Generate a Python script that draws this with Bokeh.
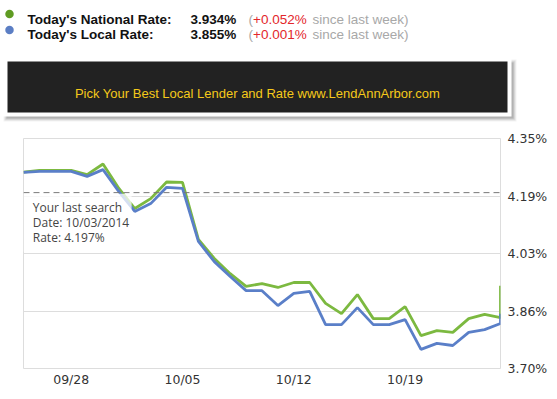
import pandas as pd
from bokeh.plotting import figure
from bokeh.layouts import column
from bokeh.models import Range1d, FixedTicker, Span, Label, BoxAnnotation
from bokeh.embed import file_html
from bokeh.resources import INLINE
from bokeh.core.properties import value

# ---------------- data ----------------
dates = ["2014-09-25", "2014-09-26", "2014-09-27", "2014-09-28", "2014-09-29",
         "2014-09-30", "2014-10-01", "2014-10-02", "2014-10-03", "2014-10-04",
         "2014-10-05", "2014-10-06", "2014-10-07", "2014-10-08", "2014-10-09",
         "2014-10-10", "2014-10-11", "2014-10-12", "2014-10-13", "2014-10-14",
         "2014-10-15", "2014-10-16", "2014-10-17", "2014-10-18", "2014-10-19",
         "2014-10-20", "2014-10-21", "2014-10-22", "2014-10-23", "2014-10-24",
         "2014-10-25", "2014-10-25"]
national = [4.255, 4.260, 4.260, 4.260, 4.248, 4.278, 4.209, 4.152, 4.180, 4.227,
            4.226, 4.065, 4.011, 3.968, 3.932, 3.940, 3.929, 3.943, 3.943, 3.884,
            3.855, 3.909, 3.841, 3.841, 3.875, 3.793, 3.807, 3.802, 3.841, 3.853,
            3.844, 3.934]
local = [4.254, 4.257, 4.257, 4.257, 4.243, 4.262, 4.200, 4.144, 4.166, 4.212,
         4.209, 4.059, 4.002, 3.960, 3.920, 3.920, 3.878, 3.912, 3.918, 3.824,
         3.824, 3.872, 3.824, 3.824, 3.838, 3.754, 3.771, 3.765, 3.802, 3.810,
         3.827, 3.855]

series_names = ["Today's National Rate:", "Today's Local Rate:"]
today_rates = ["3.934%", "3.855%"]
week_changes = ["+0.052%", "+0.001%"]

y_ticks = [3.70, 3.8625, 4.025, 4.1875, 4.35]
y_tick_labels = ["3.70%", "3.86%", "4.03%", "4.19%", "4.35%"]
x_tick_dates = ["2014-09-28", "2014-10-05", "2014-10-12", "2014-10-19"]
x_tick_labels = ["09/28", "10/05", "10/12", "10/19"]

last_search_date = "10/03/2014"
last_search_rate = 4.197
banner_text = "Pick Your Best Local Lender and Rate www.LendAnnArbor.com"

GREEN = "#7cb940"
BLUE = "#5a7fc8"
DOT_COLORS = ["#5f9b22", "#5b7ec4"]

W = 557
HEAD_H = 130
CHART_H = 269

# ---------------- header / banner figure (pixel space) ----------------
top = figure(width=W, height=HEAD_H, x_range=Range1d(0, W), y_range=Range1d(HEAD_H, 0),
             x_axis_location=None, y_axis_location=None,
             toolbar_location=None, output_backend="svg", min_border=0)
top.frame_align = False
top.grid.visible = False
top.outline_line_color = None
top.background_fill_color = "white"
top.border_fill_color = "white"

rows_base = [18.7, 34.3]
rows_mid = [13.5, 29.6]
top.scatter([9, 9], rows_mid, size=8.5, color=DOT_COLORS, line_color=None)
F = value("Liberation Sans")
for i in range(2):
    yy = rows_base[i]
    common = dict(text_font=F, text_font_size="13.5px", text_baseline="alphabetic")
    top.text([27], [yy], text=[series_names[i]], text_font_style="bold",
             text_color="#111111", **common)
    top.text([190], [yy], text=[today_rates[i]], text_font_style="bold",
             text_color="#111111", **common)
    top.text([248], [yy], text=["("], text_color="#a8a8a8", **common)
    top.text([252.5], [yy], text=[week_changes[i]], text_color="#e3262b", **common)
    top.text([312], [yy], text=["since last week)"], text_color="#a8a8a8", **common)

# banner with soft shadow
for k, a in enumerate([0.05, 0.07, 0.09, 0.12]):
    top.quad(left=[3 + k], right=[516 - k], top=[59 + k], bottom=[121 - k],
             fill_color="black", fill_alpha=a, line_color=None)
top.quad(left=[1], right=[511], top=[57], bottom=[116], fill_color="white", line_color=None)
top.quad(left=[7], right=[507], top=[61], bottom=[112], fill_color="#222222", line_color=None)
top.text([257], [92.7], text=[banner_text], text_font=F, text_font_size="13px",
         text_color="#f5c91a", text_align="center", text_baseline="alphabetic")

# ---------------- chart figure ----------------
x = pd.to_datetime(dates)
t0 = x[0].to_pydatetime()
t1 = x[-1].to_pydatetime()

p = figure(width=W, height=CHART_H, x_axis_type="datetime", y_axis_location="right",
           x_range=Range1d(t0, t1), y_range=Range1d(y_ticks[0], y_ticks[-1]),
           min_border_left=23, min_border_right=57, min_border_top=8,
           min_border_bottom=31, toolbar_location=None, output_backend="svg")
p.frame_align = False
p.background_fill_color = "white"
p.border_fill_color = "white"
p.outline_line_color = "#dddddd"

p.line(x, national, line_color=GREEN, line_width=2.8)
p.line(x, local, line_color=BLUE, line_width=2.8)

yt = FixedTicker(ticks=y_ticks)
p.yaxis.ticker = yt
p.ygrid.ticker = yt
p.yaxis.major_label_overrides = dict(zip(y_ticks, y_tick_labels))
x_tick_ms = [pd.Timestamp(d).value / 1e6 for d in x_tick_dates]
p.xaxis.ticker = FixedTicker(ticks=x_tick_ms)
p.xaxis.major_label_overrides = dict(zip(x_tick_ms, x_tick_labels))

p.xgrid.visible = False
p.ygrid.grid_line_color = "#dddddd"
for ax in p.axis:
    ax.axis_line_color = None
    ax.major_tick_line_color = None
    ax.minor_tick_line_color = None
    ax.major_tick_out = 0
    ax.major_tick_in = 0
    ax.minor_tick_out = 0
    ax.major_label_text_font = "DejaVu Sans"
    ax.major_label_text_font_size = "12.5px"
    ax.major_label_text_color = "#333333"
p.yaxis.major_label_standoff = 7
p.xaxis.major_label_standoff = 3

# last-search marker
p.add_layout(Span(location=last_search_rate, dimension="width", line_color="#777777",
                  line_dash="6 4", line_width=1))
p.add_layout(BoxAnnotation(left=t0, right=t0 + pd.Timedelta(days=6.8).to_pytimedelta(),
                           top=4.194, bottom=4.03, fill_color="white", fill_alpha=0.75,
                           line_color=None))
info = ["Your last search", "Date: " + last_search_date, "Rate: %.3f%%" % last_search_rate]
for i, t in enumerate(info):
    p.add_layout(Label(x=t0, y=last_search_rate, x_offset=9.3, y_offset=-14.8 - 15 * i,
                       text=t, text_font="Open Sans", text_font_size="12px",
                       text_color="#444444", text_baseline="middle"))

layout = column(top, p, spacing=0)
open("out.html", "w").write(file_html(layout, INLINE))
